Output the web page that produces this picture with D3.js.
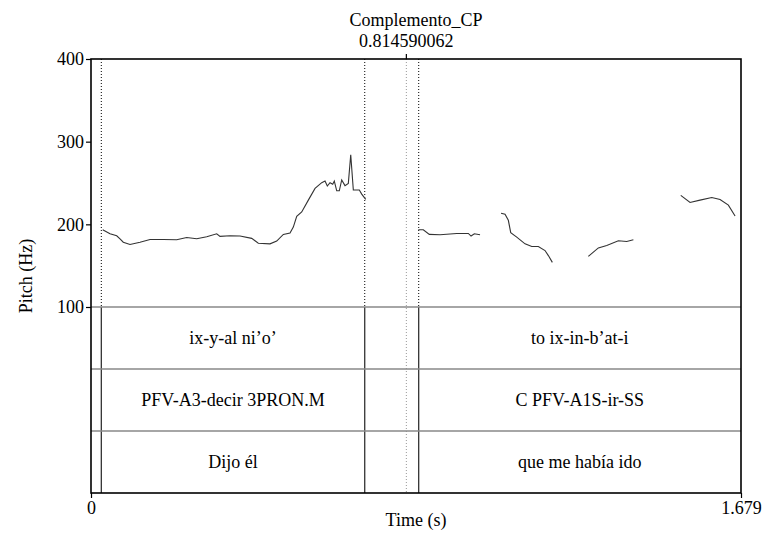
<!DOCTYPE html>
<html lang="es">
<head>
<meta charset="UTF-8">
<title>Complemento_CP</title>
<script src="https://cdn.jsdelivr.net/npm/d3@7"></script>
<style>
  body { margin: 0; background: #fff; }
  svg, svg text { font-family: "Times New Roman", "Liberation Serif", "DejaVu Serif", serif !important; }
  text { fill: #000; }
  .axis text { font-size: 18px; }
  .axis path { display: none; }
  .axis line { stroke: #000; stroke-width: 1.2px; }
  .pitch { fill: none; stroke: #333; stroke-width: 1.1px; }
</style>
</head>
<body>
<div id="chart"></div>
<script>
// sound duration and the cursor
const duration = 1.679;
const cursorTime = 0.814590062;

// textgrid boundaries (s)
const boundaries = [0.0266, 0.7071, 0.8465];

// tiers: [start, end, label]
const tier1 = [[0.0266, 0.7071, "ix-y-al ni\u2019o\u2019"], [0.8465, duration, "to ix-in-b\u2019at-i"]];
const tier2 = [[0.0266, 0.7071, "PFV-A3-decir 3PRON.M"], [0.8465, duration, "C PFV-A1S-ir-SS"]];
const tier3 = [[0.0266, 0.7071, "Dijo \u00e9l"], [0.8465, duration, "que me hab\u00eda ido"]];

// pitch contour pieces (time s, Hz)
const seg1t = [0.0302, 0.0491, 0.0664, 0.0749, 0.0834, 0.1008, 0.1266, 0.1524, 0.1868, 0.2214, 0.2472, 0.2731, 0.2989, 0.3247, 0.3333, 0.3591, 0.3849, 0.4151, 0.4322, 0.4624, 0.4797, 0.4968, 0.5141, 0.5226, 0.5314, 0.5443, 0.5614, 0.5787, 0.5960, 0.6045, 0.6104, 0.6174, 0.6244, 0.6285, 0.6347, 0.6414, 0.6476, 0.6561, 0.6647, 0.6709, 0.6776, 0.6931, 0.6993, 0.7096];
const seg1f = [193.5, 188.6, 186.2, 182.5, 178.4, 175.6, 178.4, 181.7, 181.7, 181.3, 184.1, 182.5, 185, 188.6, 185.4, 186.2, 185.8, 183, 177.2, 176.4, 179.7, 187.8, 189.4, 196.7, 209.8, 215, 229.3, 243.5, 250.4, 252.4, 246.3, 250.4, 248.4, 252.4, 240.6, 240.6, 253.7, 246.8, 249.6, 284.1, 241.5, 241.5, 236.6, 230.1];
const seg2t = [0.8455, 0.8584, 0.8739, 0.9016, 0.9447, 0.9747, 0.9817, 0.9902, 1.0049];
const seg2f = [193.5, 193.5, 187.8, 187.4, 189, 189, 185.8, 188.6, 187.4];
const seg3t = [1.0592, 1.0695, 1.0780, 1.0842, 1.0997, 1.1212, 1.1385, 1.1555, 1.1728, 1.1814, 1.1917];
const seg3f = [213.4, 212.2, 204.9, 189.9, 184.6, 176.4, 173.2, 173.2, 168.3, 162.2, 154];
const seg4t = [1.2847, 1.3105, 1.3322, 1.3622, 1.3839, 1.4010];
const seg4f = [161.3, 171.5, 174.4, 180.1, 179.3, 181.3];
const seg5t = [1.5234, 1.5474, 1.5732, 1.6035, 1.6249, 1.6464, 1.6637];
const seg5f = [235, 226.5, 229.3, 232.5, 230.1, 223.2, 210.1];

const yTicks = [100, 200, 300, 400];
const xTicks = [0, duration];

const width = 764, height = 540;
const mLeft = 91, mRight = 741, mTop = 59, pitchBottom = 307, mBottom = 493;
const tierH = (mBottom - pitchBottom) / 3;
const serif = '"Times New Roman", "Liberation Serif", serif';
const fs = "18px";

const svg = d3.select("#chart").append("svg")
    .attr("width", width).attr("height", height)
    .attr("font-family", serif);

const x = d3.scaleLinear().domain([0, duration]).range([mLeft, mRight]);
const y = d3.scaleLinear().domain([100, 400]).range([pitchBottom, mTop]);

// boundaries, dotted in the pitch part and solid in the tiers
boundaries.forEach(b => {
    svg.append("line").attr("x1", x(b)).attr("x2", x(b))
        .attr("y1", mTop).attr("y2", pitchBottom)
        .attr("stroke", "#000").attr("stroke-width", 1).attr("stroke-dasharray", "1,2");
    svg.append("line").attr("x1", x(b)).attr("x2", x(b))
        .attr("y1", pitchBottom).attr("y2", mBottom)
        .attr("stroke", "#222").attr("stroke-width", 1.2);
});

// cursor
svg.append("line").attr("x1", x(cursorTime)).attr("x2", x(cursorTime))
    .attr("y1", mTop).attr("y2", mBottom)
    .attr("stroke", "#999").attr("stroke-width", 1).attr("stroke-dasharray", "1,2");
svg.append("line").attr("x1", x(cursorTime)).attr("x2", x(cursorTime))
    .attr("y1", mTop - 5).attr("y2", mTop)
    .attr("stroke", "#000").attr("stroke-width", 1.2);

// tier separators
[0, 1, 2].forEach(i => {
    svg.append("line").attr("x1", mLeft).attr("x2", mRight)
        .attr("y1", pitchBottom + i * tierH).attr("y2", pitchBottom + i * tierH)
        .attr("stroke", "#888").attr("stroke-width", 1.6);
});

// tier labels
[tier1, tier2, tier3].forEach((tier, i) => {
    svg.append("g").selectAll("text").data(tier).enter().append("text")
        .attr("x", d => x((d[0] + d[1]) / 2))
        .attr("y", pitchBottom + i * tierH + tierH / 2 + 6)
        .attr("text-anchor", "middle")
        .style("font-family", serif)
        .style("font-size", fs)
        .text(d => d[2]);
});

// pitch contour
const line = d3.line().x(d => x(d[0])).y(d => y(d[1]));
[[seg1t, seg1f], [seg2t, seg2f], [seg3t, seg3f], [seg4t, seg4f], [seg5t, seg5f]].forEach(s => {
    svg.append("path").attr("class", "pitch")
        .attr("d", line(s[0].map((t, i) => [t, s[1][i]])));
});

// frame
svg.append("rect").attr("x", mLeft).attr("y", mTop)
    .attr("width", mRight - mLeft).attr("height", mBottom - mTop)
    .attr("fill", "none").attr("stroke", "#000").attr("stroke-width", 1.6);

// axes
svg.append("g").attr("class", "axis")
    .attr("transform", `translate(${mLeft},0)`)
    .call(d3.axisLeft(y).tickValues(yTicks).tickSize(5).tickPadding(2).tickFormat(d3.format("d")))
    .attr("font-family", serif);
svg.append("g").attr("class", "axis")
    .attr("transform", `translate(0,${mBottom})`)
    .call(d3.axisBottom(x).tickValues(xTicks).tickSize(5).tickPadding(3)
        .tickFormat(d => d === 0 ? "0" : String(d)))
    .attr("font-family", serif);

// labels
const label = (tx, ty, s) => svg.append("text").attr("x", tx).attr("y", ty)
    .attr("text-anchor", "middle").style("font-family", serif).style("font-size", fs).text(s);
label((mLeft + mRight) / 2, 26, "Complemento_CP");
label(x(cursorTime), 47, String(cursorTime));
label((mLeft + mRight) / 2, 526, "Time (s)");
label(0, 0, "Pitch (Hz)").attr("transform", `translate(32,${(mTop + mBottom) / 2}) rotate(-90)`);
</script>
</body>
</html>
